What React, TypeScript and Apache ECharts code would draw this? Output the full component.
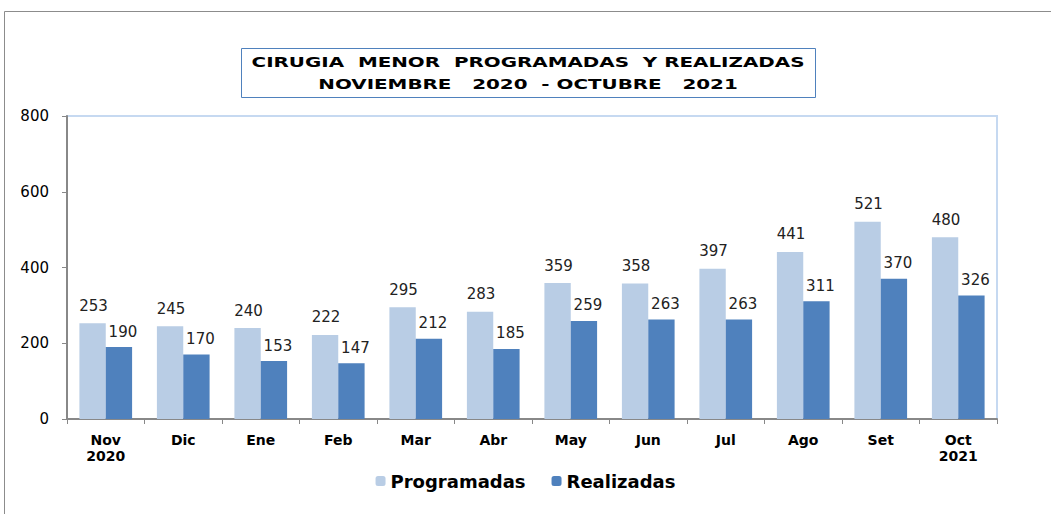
import React, { useEffect, useRef } from "react";
import * as echarts from "echarts";

const categories = ["Nov\n2020", "Dic", "Ene", "Feb", "Mar", "Abr", "May", "Jun", "Jul", "Ago", "Set", "Oct\n2021"];
const programadas = [253, 245, 240, 222, 295, 283, 359, 358, 397, 441, 521, 480];
const realizadas = [190, 170, 153, 147, 212, 185, 259, 263, 263, 311, 370, 326];
const titleLines = ["CIRUGIA  MENOR  PROGRAMADAS  Y REALIZADAS", "NOVIEMBRE   2020  - OCTUBRE   2021"];
const seriesNames = ["Programadas", "Realizadas"];

const FONT = "DejaVu Sans";

export default function App() {
  const ref = useRef<HTMLDivElement>(null);
  useEffect(() => {
    if (!ref.current) return;
    const chart = echarts.init(ref.current, undefined, { renderer: "svg" });
    const titleStyle = (text: string) => ({
      text,
      fill: "#000",
      font: `bold 14px "${FONT}"`,
      textAlign: "center",
      textVerticalAlign: "middle",
    });
    chart.setOption({
      animation: false,
      backgroundColor: "#ffffff",
      textStyle: { fontFamily: FONT },
      graphic: [
        {
          type: "rect",
          silent: true,
          shape: { x: 4.5, y: 11.5, width: 1100, height: 600 },
          style: { fill: "none", stroke: "#8c8c8c", lineWidth: 1 },
        },
        {
          type: "rect",
          silent: true,
          shape: { x: 241.5, y: 48.5, width: 574, height: 49 },
          style: { fill: "none", stroke: "#4f81bd", lineWidth: 1 },
        },
        {
          type: "text",
          silent: true,
          x: 528,
          y: 62,
          scaleX: 1.42,
          style: titleStyle(titleLines[0]),
        },
        {
          type: "text",
          silent: true,
          x: 528,
          y: 84,
          scaleX: 1.42,
          style: titleStyle(titleLines[1]),
        },
      ],
      legend: {
        data: seriesNames,
        bottom: 19,
        left: "center",
        itemWidth: 10,
        itemHeight: 10,
        itemGap: 26,
        textStyle: { fontFamily: FONT, fontSize: 18, fontWeight: "bold", color: "#000" },
      },
      grid: {
        left: 67,
        top: 116,
        right: 54,
        bottom: 95,
        show: true,
        borderColor: "#c6d9f1",
        borderWidth: 2,
      },
      xAxis: {
        type: "category",
        data: categories,
        axisLine: { lineStyle: { color: "#888", width: 2 } },
        axisTick: { show: true, alignWithLabel: false, length: 5, lineStyle: { color: "#888" } },
        axisLabel: {
          interval: 0,
          margin: 13,
          fontFamily: FONT,
          fontSize: 14,
          fontWeight: "bold",
          color: "#000",
          lineHeight: 16,
        },
      },
      yAxis: {
        type: "value",
        min: 0,
        max: 800,
        interval: 200,
        axisLine: { show: true, lineStyle: { color: "#888", width: 2 } },
        axisTick: { show: true, length: 5, lineStyle: { color: "#888" } },
        splitLine: { show: false },
        axisLabel: { margin: 18, fontFamily: FONT, fontSize: 15, color: "#000" },
      },
      series: [
        {
          name: seriesNames[0],
          type: "bar",
          data: programadas,
          barGap: "0%",
          barCategoryGap: "32%",
          itemStyle: { color: "#b9cde5" },
          label: { show: true, position: "top", distance: 10, offset: [1, 0], fontFamily: FONT, fontSize: 15, color: "#222" },
        },
        {
          name: seriesNames[1],
          type: "bar",
          data: realizadas,
          itemStyle: { color: "#4f81bd" },
          label: { show: true, position: "top", distance: 8, offset: [4, 0], fontFamily: FONT, fontSize: 15, color: "#222" },
        },
      ],
    });
    return () => chart.dispose();
  }, []);
  return <div ref={ref} style={{ position: "absolute", left: 0, top: 0, width: 1051, height: 514 }} />;
}
